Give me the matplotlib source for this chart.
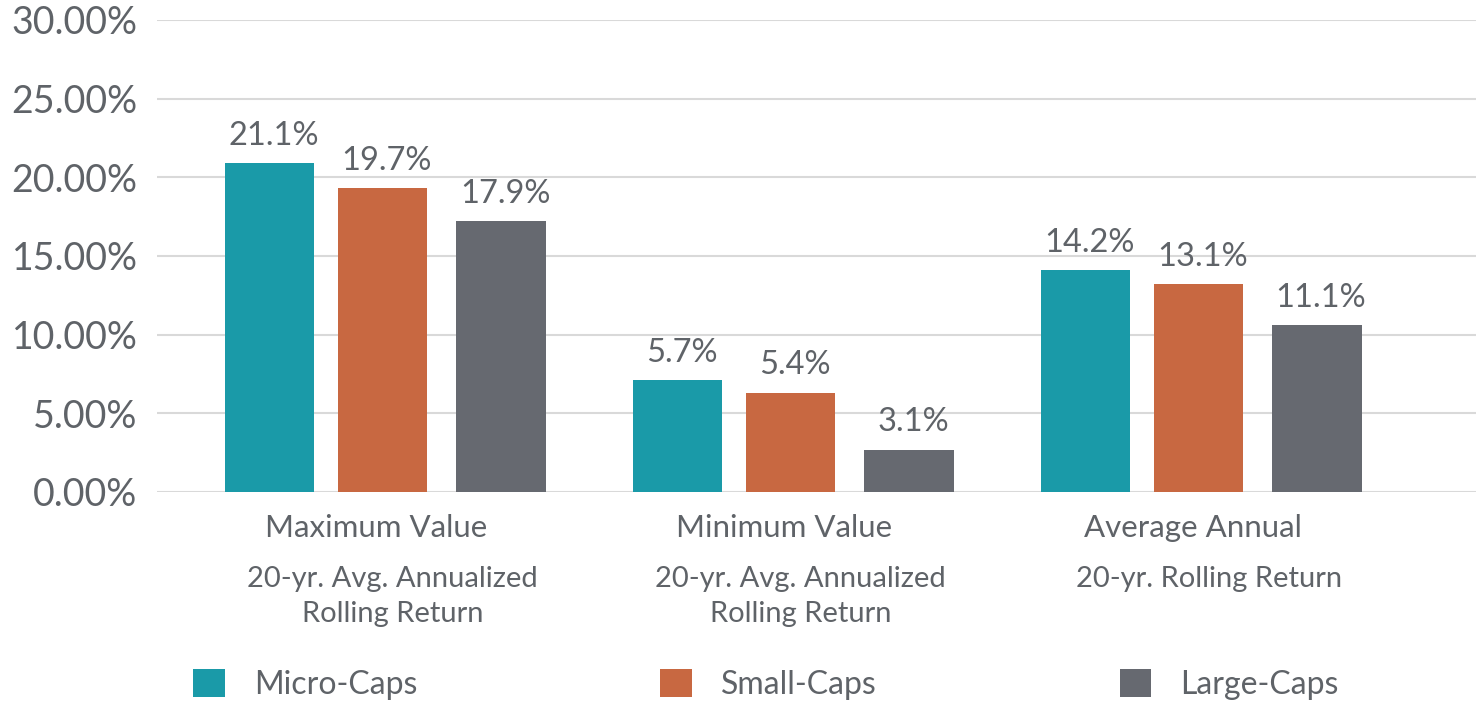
import matplotlib
matplotlib.use("Agg")
import matplotlib.pyplot as plt
import numpy as np

# ---- data ----
categories = ["Maximum Value", "Minimum Value", "Average Annual"]
subtitles = ["20-yr. Avg. Annualized\nRolling Return",
             "20-yr. Avg. Annualized\nRolling Return",
             "20-yr. Rolling Return"]
series = ["Micro-Caps", "Small-Caps", "Large-Caps"]
micro_vals = [20.9, 7.1, 14.1]
small_vals = [19.3, 6.3, 13.2]
large_vals = [17.2, 2.7, 10.6]
micro_labels = ["21.1%", "5.7%", "14.2%"]
small_labels = ["19.7%", "5.4%", "13.1%"]
large_labels = ["17.9%", "3.1%", "11.1%"]
yticks = [0, 5, 10, 15, 20, 25, 30]
ytick_labels = ["0.00%", "5.00%", "10.00%", "15.00%", "20.00%", "25.00%", "30.00%"]

colors = ["#1a9aa8", "#c86841", "#666970"]
text_color = "#5f6368"
plt.rcParams['font.family'] = ['Lato', 'DejaVu Sans']

fig = plt.figure(figsize=(14.76, 7.01), dpi=100)
ax = fig.add_axes([157 / 1476, (701 - 492) / 701, 1 - 157 / 1476, (492 - 20) / 701])

x = np.arange(len(categories))
offsets = [-0.277, 0.0, 0.29]
width = 0.22
all_vals = [micro_vals, small_vals, large_vals]
all_labels = [micro_labels, small_labels, large_labels]

for i, (vals, labs) in enumerate(zip(all_vals, all_labels)):
    bars = ax.bar(x + offsets[i], vals, width=width, color=colors[i],
                  label=series[i], zorder=3)
    for b, lab in zip(bars, labs):
        ax.annotate(lab, (b.get_x() + b.get_width() / 2, b.get_height()),
                    xytext=(3, 9), textcoords="offset points",
                    ha="center", va="bottom", fontsize=23.5, color=text_color)

ax.set_xlim(-0.553, 2.68)
ax.set_ylim(0, 30)
ax.set_yticks(yticks)
ax.set_yticklabels(ytick_labels, fontsize=27, color=text_color)
ax.tick_params(axis="y", length=0, pad=14)
ax.set_xticks([])
ax.yaxis.grid(True, color="#d9d9d9", linewidth=1.5, zorder=0)
ax.set_axisbelow(True)
for s in ax.spines.values():
    s.set_visible(False)

trans = ax.get_xaxis_transform()
for xi, cat, sub in zip(x, categories, subtitles):
    ax.text(xi - 0.015, -0.0953, cat, transform=trans, ha="center",
            va="baseline", fontsize=22.5, color=text_color)
    lines = sub.split("\n")
    ax.text(xi + 0.025, -0.2013, lines[0], transform=trans, ha="center",
            va="baseline", fontsize=21, color=text_color)
    if len(lines) > 1:
        ax.text(xi + 0.025, -0.275, lines[1], transform=trans, ha="center",
                va="baseline", fontsize=21, color=text_color)

leg = fig.legend(loc="center", bbox_to_anchor=(0.519, 0.024), ncol=3,
                 frameon=False, fontsize=23, handlelength=1.0, handleheight=1.0,
                 handletextpad=0.9, columnspacing=7.6)
for t in leg.get_texts():
    t.set_color(text_color)

fig.savefig("out.png", dpi=100)
